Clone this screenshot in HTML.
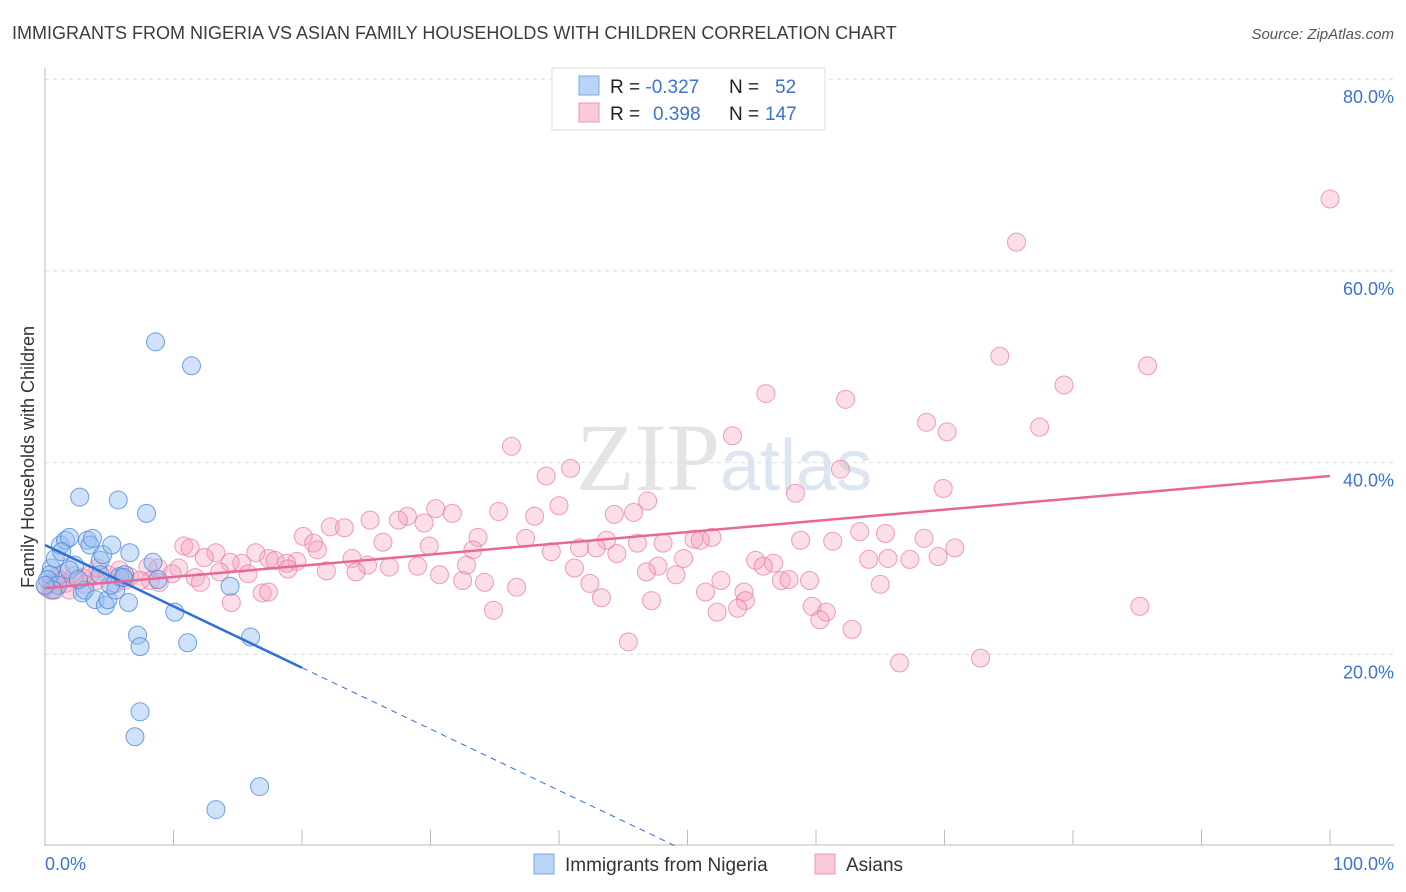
<!DOCTYPE html>
<html><head><meta charset="utf-8"><style>
body{margin:0;background:#fff;font-family:"Liberation Sans",sans-serif;}
#wrap{position:relative;width:1406px;height:892px;overflow:hidden;}
</style></head><body>
<div id="wrap">
<svg id="svg" width="1406" height="892" xmlns="http://www.w3.org/2000/svg">
<text x="12" y="39" font-size="18" fill="#3c3c3c">IMMIGRANTS FROM NIGERIA VS ASIAN FAMILY HOUSEHOLDS WITH CHILDREN CORRELATION CHART</text>
<text x="1394" y="39" font-size="15" fill="#555" font-style="italic" text-anchor="end">Source: ZipAtlas.com</text>
<text x="720" y="490" font-size="96" fill="#e4e4e4" text-anchor="end" font-family="Liberation Serif">ZIP</text>
<text x="720" y="490" font-size="72" fill="#dce6f2">atlas</text>
<text transform="translate(34,457) rotate(-90)" font-size="18" fill="#333" text-anchor="middle">Family Households with Children</text>
<g id="grid"></g><g id="axes"></g><g id="pts"></g><g id="trend"></g>
<g>
<rect x="552" y="68" width="273" height="62" fill="#fff" stroke="#ddd"/>
<rect x="579" y="76" width="20" height="19" fill="#b9d4f5" stroke="#7aa8e6"/>
<rect x="579" y="103" width="20" height="19" fill="#f9c9d8" stroke="#f094b2"/>
<text x="610" y="93" font-size="19" fill="#222">R = <tspan fill="#3a74d0">-0.327</tspan><tspan x="729">N = </tspan><tspan x="775" fill="#3a74d0">52</tspan></text>
<text x="610" y="120" font-size="19" fill="#222">R = <tspan x="653" fill="#3a74d0">0.398</tspan><tspan x="729">N = </tspan><tspan x="765" fill="#3a74d0">147</tspan></text>
</g>
<g>
<rect x="534" y="854" width="20" height="20" fill="#b9d4f5" stroke="#7aa8e6"/>
<text x="565" y="871" font-size="19" fill="#333">Immigrants from Nigeria</text>
<rect x="815" y="854" width="20" height="20" fill="#f9c9d8" stroke="#f094b2"/>
<text x="846" y="871" font-size="19" fill="#333">Asians</text>
</g>
<text x="45" y="870" font-size="18" fill="#3a74d0">0.0%</text>
<text x="1394" y="870" font-size="18" fill="#3a74d0" text-anchor="end">100.0%</text>
</svg>
</div>
<script>
const blueX=[0.5,0.4,0.2,0.8,1.2,1.6,1.9,1.3,1.0,0.6,2.3,2.7,2.9,3.1,3.3,3.5,3.7,3.9,4.3,4.5,4.7,4.9,5.2,5.5,5.7,5.8,6.2,6.5,6.6,7.2,7.4,7.9,8.4,8.6,8.8,10.1,11.1,11.4,14.4,16.0,7.4,7.0,13.3,16.7,5.1,1.9,0.0,4.3,2.6,6.1];
const blueY=[29.0,28.3,27.8,30.0,31.4,31.9,32.2,30.7,27.2,26.7,29.3,36.4,26.4,26.7,31.9,31.4,32.1,25.7,29.8,30.4,25.1,25.7,31.4,26.7,36.1,28.1,28.3,25.4,30.6,22.0,20.8,34.7,29.6,52.6,27.8,24.4,21.2,50.1,27.1,21.8,14.0,11.4,3.8,6.2,27.2,28.8,27.2,28.3,27.8,28.0];
const pinkX=[100,75.6,74.3,85.8,79.3,56.1,62.3,68.6,77.4,70.2,53.5,36.3,61.9,40.9,39.0,69.9,58.4,46.9,40.0,30.4,31.7,35.3,28.2,27.5,25.3,38.1,29.5,45.8,44.3,20.1,22.2,23.3,26.3,33.7,37.4,10.8,11.3,13.3,20.9,21.2,29.9,33.3,43.7,41.6,42.9,46.1,48.1,50.5,51.9,51.0,58.8,61.3,63.4,65.4,68.4,70.8,17.4,17.9,19.6,16.4,18.8,15.3,14.4,12.4,8.8,8.0,10.4,23.9,25.1,32.8,39.4,44.5,49.7,47.7,55.3,56.7,55.9,64.1,65.6,67.3,69.5,4.9,2.9,4.0,5.5,6.6,8.2,8.9,9.9,11.7,13.6,15.8,18.9,21.9,24.2,26.8,29.0,30.7,32.5,34.2,36.7,41.2,42.4,46.8,49.1,51.4,52.6,54.4,57.3,57.9,59.5,65.0,4.1,1.2,1.6,0.5,0.4,1.9,3.5,6.2,7.4,12.1,14.5,16.9,17.4,34.9,43.3,47.2,54.5,59.7,60.8,60.3,62.8,45.4,66.5,72.8,85.2,52.3,53.9,0.9,2.3,0.1,0.8,1.3,3.1,5.8];
const pinkY=[67.5,63.0,51.1,50.1,48.1,47.2,46.6,44.2,43.7,43.2,42.8,41.7,39.3,39.4,38.6,37.3,36.8,36.0,35.5,35.2,34.7,34.9,34.4,34.0,34.0,34.4,33.7,34.8,34.6,32.3,33.3,33.2,31.7,32.2,32.1,31.3,31.1,30.6,31.6,30.9,31.3,30.9,31.9,31.1,31.1,31.6,31.6,32.0,32.2,31.9,31.9,31.8,32.8,32.6,32.1,31.1,30.0,29.8,29.7,30.6,29.5,29.5,29.6,30.1,29.0,29.1,29.0,30.0,29.3,29.3,30.7,30.5,30.0,29.2,29.8,29.5,29.2,29.9,30.0,29.9,30.2,28.3,28.0,27.7,27.4,28.1,27.7,27.5,28.4,28.0,28.6,28.4,28.9,28.7,28.6,29.1,29.2,28.3,27.7,27.5,27.0,29.0,27.4,28.6,28.3,26.5,27.7,26.5,27.7,27.8,27.7,27.3,29.0,27.7,27.4,27.4,26.7,26.7,28.3,27.7,27.7,27.5,25.4,26.4,26.5,24.6,25.9,25.6,25.6,25.0,24.4,23.6,22.6,21.3,19.1,19.6,25.0,24.4,24.8,28.1,28.2,27.0,26.7,28.4,27.3,28.8];
const yTicks=[20,40,60,80];
const yTickLabels=["20.0%","40.0%","60.0%","80.0%"];
const xTicks=[0,10,20,30,40,50,60,70,80,90,100];
const blueTrend=[31.4,-0.64]; // intercept, slope
const blueSolidEnd=[20];
const pinkTrend=[26.9,0.117];

const NS="http://www.w3.org/2000/svg";
const X=v=>45+v*12.85, Y=v=>846-v*9.585;
function mk(tag,attrs,parent){const e=document.createElementNS(NS,tag);for(const k in attrs)e.setAttribute(k,attrs[k]);document.getElementById(parent).appendChild(e);return e;}
yTicks.forEach((t,i)=>{
  const g=mk('line',{x1:45,x2:1394,y1:Y(t),y2:Y(t),stroke:'#ddd','stroke-dasharray':'4,4'},'grid');
  
  
  const tx=mk('text',{x:1394,y:Y(t)+24,'font-size':18,fill:'#3a74d0','text-anchor':'end'},'grid');
  tx.textContent=yTickLabels[i];
  
  
});
const ax=mk('line',{x1:45,x2:45,y1:68,y2:846,stroke:'#bbb'},'axes');


const bx=mk('line',{x1:45,x2:1394,y1:845,y2:845,stroke:'#bbb'},'axes');


xTicks.forEach(t=>{
  const l=mk('line',{x1:X(t),x2:X(t),y1:830,y2:845,stroke:'#bbb'},'axes');
  
  
});
pinkX.forEach((x,i)=>{
  const c=mk('circle',{cx:X(x),cy:Y(pinkY[i]),r:9,fill:'rgba(244,160,188,0.35)',stroke:'rgba(232,120,158,0.7)','stroke-width':1},'pts');
  
  
});
blueX.forEach((x,i)=>{
  const c=mk('circle',{cx:X(x),cy:Y(blueY[i]),r:9,fill:'rgba(150,190,240,0.45)',stroke:'rgba(70,130,215,0.75)','stroke-width':1},'pts');
  
  
});
const bz=-blueTrend[0]/blueTrend[1];
const b1=mk('line',{x1:X(0),y1:Y(blueTrend[0]),x2:X(blueSolidEnd[0]),y2:Y(blueTrend[0]+blueTrend[1]*blueSolidEnd[0]),stroke:'#2f6fd6','stroke-width':2.5},'trend');


const b2=mk('line',{x1:X(blueSolidEnd[0]),y1:Y(blueTrend[0]+blueTrend[1]*blueSolidEnd[0]),x2:X(bz),y2:Y(0),stroke:'#2f6fd6','stroke-width':1,'stroke-dasharray':'6,5'},'trend');


const p1=mk('line',{x1:X(0),y1:Y(pinkTrend[0]),x2:X(100),y2:Y(pinkTrend[0]+pinkTrend[1]*100),stroke:'#e8679a','stroke-width':2.5},'trend');


</script>
</body></html>
